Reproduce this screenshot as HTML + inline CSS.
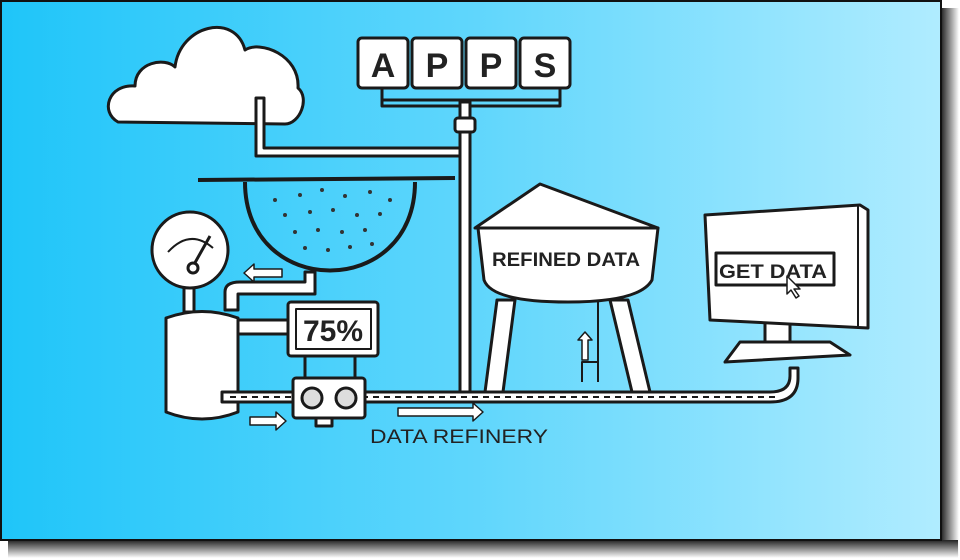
<!DOCTYPE html>
<html><head><meta charset="utf-8"><style>
html,body{margin:0;padding:0;background:#fff;width:960px;height:560px;overflow:hidden}
svg{display:block}
text{font-family:"Liberation Sans",sans-serif;font-weight:bold;fill:#222}
</style></head><body>
<svg width="960" height="560" viewBox="0 0 960 560" xmlns="http://www.w3.org/2000/svg">
<defs>
<linearGradient id="bg" x1="0" x2="1" y1="0" y2="0">
<stop offset="0" stop-color="#1fc5f9"/><stop offset="0.5" stop-color="#5fd6fc"/><stop offset="1" stop-color="#b0ecff"/>
</linearGradient>
<linearGradient id="sh" x1="0" x2="1"><stop offset="0" stop-color="#222"/><stop offset="1" stop-color="#fff"/></linearGradient>
<linearGradient id="shb" x1="0" x2="0" y1="0" y2="1"><stop offset="0" stop-color="#222"/><stop offset="1" stop-color="#fff"/></linearGradient>
</defs>
<rect x="941" y="8" width="18" height="548" fill="url(#sh)"/>
<rect x="8" y="540" width="950" height="18" fill="url(#shb)"/>
<rect x="1" y="1" width="940" height="539" fill="url(#bg)" stroke="#111" stroke-width="2"/>
<g stroke="#1a1a1a" stroke-width="3" fill="#fff" stroke-linejoin="round">
<path d="M118 122 C100 112 108 84 135 86 C135 62 165 57 175 67 C180 25 235 12 245 50 C260 40 300 55 298 88 C310 98 300 124 285 124 Z"/>
<path d="M264 98 v50 h200 v8 h-208 v-58 Z"/>
<path d="M382 88 v12 h178 v-12 M382 100 v6 h178 v-6" fill="none"/>
<rect x="460" y="102" width="10" height="290" />
<rect x="455" y="118" width="20" height="14" rx="3"/>
<rect x="358" y="38" width="50" height="50" rx="4"/>
<rect x="412" y="38" width="50" height="50" rx="4"/>
<rect x="466" y="38" width="50" height="50" rx="4"/>
<rect x="520" y="38" width="50" height="50" rx="4"/>
<path d="M198 180 L455 178" fill="none" stroke-width="4"/>
<path d="M245 182 C245 300 415 300 415 182" fill="none" stroke-width="4"/>
<rect x="184" y="282" width="10" height="30"/>
<circle cx="190" cy="250" r="38"/>
<path d="M168 252 Q190 228 213 248" fill="none" stroke-width="2"/>
<path d="M192 268 L210 236" fill="none"/>
<circle cx="193" cy="268" r="5"/>
<path d="M166 318 Q202 305 238 318 V412 Q202 426 166 412 Z"/>
<path d="M225 310 V292 Q225 282 240 282 H305 V272 h10 v22 H238 V310 Z"/>
<rect x="238" y="320" width="50" height="14"/>
<rect x="288" y="302" width="90" height="54" rx="3"/>
<rect x="296" y="309" width="75" height="40" fill="#fff" stroke-width="2"/>
<path d="M305 356 v22 M355 356 v22" fill="none"/>
<path d="M222 392 H770 Q790 392 790 376 V368 h8 v10 Q798 402 770 402 H222 Z"/>
<path d="M230 397 H780" fill="none" stroke-width="2" stroke-dasharray="6 5"/>
<rect x="293" y="378" width="72" height="40" rx="3"/>
<circle cx="312" cy="398" r="10" fill="#ddd"/>
<circle cx="346" cy="398" r="10" fill="#ddd"/>
<rect x="316" y="418" width="16" height="8"/>
<path d="M497 300 L485 392 h18 l12 -92 Z"/>
<path d="M610 300 L632 392 h18 l-22 -92 Z"/>
<path d="M540 184 L658 228 L475 228 Z"/>
<path d="M478 228 H658 L652 280 Q640 302 568 302 Q492 302 484 280 Z"/>
<path d="M598 302 v80 M582 382 v-20 h16" fill="none" stroke-width="2"/>
<path d="M765 320 h25 v22 h-25 Z"/>
<path d="M740 342 L830 342 L850 355 L725 362 Z"/>
<path d="M705 215 L860 205 L868 210 L868 328 L710 320 Z"/>
<path d="M858 206 L858 326" fill="none" stroke-width="2"/>
<rect x="716" y="253" width="118" height="32" fill="#fff" stroke-width="3"/>
<path d="M787 276 l0 18 l4 -4 l5 8 l3 -2 l-5 -7 l6 0 Z" stroke-width="1.5"/>
<path d="M282 269 h-28 v-5 l-10 9 l10 9 v-5 h28 Z" stroke-width="1.5"/>
<path d="M250 417 h26 v-5 l10 9 l-10 9 v-5 h-26 Z" stroke-width="1.5"/>
<path d="M398 408 h75 v-5 l10 9 l-10 9 v-5 h-75 Z" stroke-width="1.5"/>
<path d="M582 360 v-20 h-4 l7 -8 l7 8 h-4 v20 Z" stroke-width="1.5"/>
</g>
<g fill="#333">
<circle cx="275" cy="200" r="2"/><circle cx="300" cy="195" r="2"/><circle cx="322" cy="190" r="2"/><circle cx="345" cy="196" r="2"/><circle cx="370" cy="192" r="2"/><circle cx="390" cy="200" r="2"/>
<circle cx="285" cy="215" r="2"/><circle cx="310" cy="212" r="2"/><circle cx="333" cy="210" r="2"/><circle cx="357" cy="215" r="2"/><circle cx="380" cy="214" r="2"/>
<circle cx="295" cy="232" r="2"/><circle cx="318" cy="230" r="2"/><circle cx="342" cy="232" r="2"/><circle cx="365" cy="230" r="2"/>
<circle cx="305" cy="248" r="2"/><circle cx="328" cy="250" r="2"/><circle cx="350" cy="247" r="2"/><circle cx="372" cy="244" r="2"/>
</g>
<text x="383" y="77" font-size="34" text-anchor="middle">A</text>
<text x="437" y="77" font-size="34" text-anchor="middle">P</text>
<text x="491" y="77" font-size="34" text-anchor="middle">P</text>
<text x="545" y="77" font-size="34" text-anchor="middle">S</text>
<text x="333" y="341" font-size="30" text-anchor="middle">75%</text>
<text x="566" y="266" font-size="19" text-anchor="middle" textLength="148" lengthAdjust="spacingAndGlyphs">REFINED DATA</text>
<text x="773" y="278" font-size="19" text-anchor="middle" textLength="108" lengthAdjust="spacingAndGlyphs">GET DATA</text>
<text x="459" y="443" font-size="19" text-anchor="middle" style="font-weight:normal" textLength="178" lengthAdjust="spacingAndGlyphs">DATA REFINERY</text>
</svg>
</body></html>
